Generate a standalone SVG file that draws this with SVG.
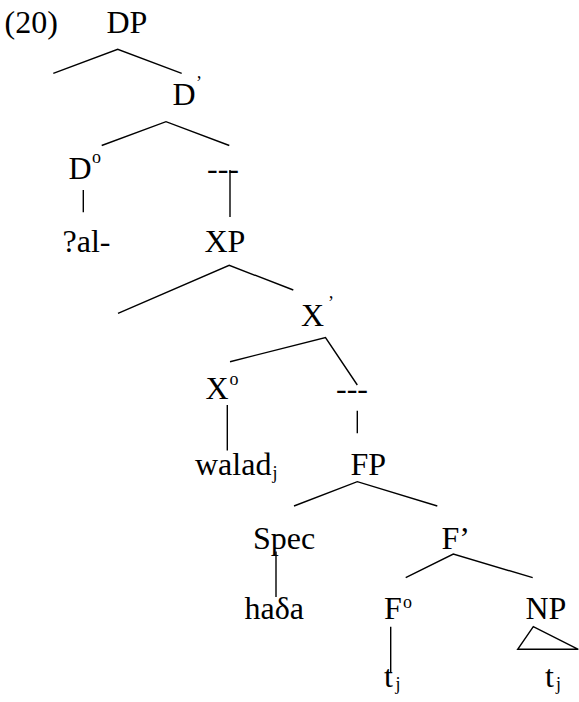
<svg xmlns="http://www.w3.org/2000/svg" width="579" height="702" viewBox="0 0 579 702">
<style>
text{font-family:"Liberation Serif","Times New Roman",serif;font-size:32px;fill:#000}
.c{fill:none;stroke:#000;stroke-width:1.4;stroke-linejoin:miter}
</style>
<rect width="579" height="702" fill="#fff"/>
<g id="connectors">
<path class="c" d="M53.3,73.3 L117.7,49.3 L181.7,73.3"/>
<path class="c" d="M101.7,145.5 L166,121.7 L229.3,145.5"/>
<path class="c" d="M230,170 V217"/>
<path class="c" d="M83.3,190 V212.3"/>
<path class="c" d="M118,313.3 L229.2,265.3 L293.3,290"/>
<path class="c" d="M230,361.7 L325.5,337.5 L357.3,385"/>
<path class="c" d="M227.3,405 V450.5"/>
<path class="c" d="M357.3,410.7 V433.3"/>
<path class="c" d="M294,506 L357.3,481.7 L437.3,506"/>
<path class="c" d="M276,551.5 V597"/>
<path class="c" d="M405.7,577.7 L453.3,554 L532.7,577.7"/>
<path class="c" d="M390.7,626.7 V672.7"/>
<path class="c" d="M533.3,626.7 L517.7,649.3 L578.3,649.3 Z"/>
</g>
<g id="label-20"><text x="4.5" y="33">(20)</text></g>
<g id="node-DP"><text x="106.5" y="33">DP</text></g>
<g id="node-Dbar"><text x="172.5" y="105">D</text><text x="196" y="88.5" style="font-size:18px">’</text></g>
<g id="node-D0"><text x="68.5" y="179">D</text><text x="92" y="163" style="font-size:18px">o</text></g>
<g id="node-empty1"><text x="207" y="179">---</text></g>
<g id="node-al"><text x="62.5" y="252">?al-</text></g>
<g id="node-XP"><text x="204.5" y="252">XP</text></g>
<g id="node-Xbar"><text x="301" y="326">X</text><text x="328" y="309" style="font-size:18px">’</text></g>
<g id="node-X0"><text x="205.5" y="399">X</text><text x="229.5" y="385" style="font-size:18px">o</text></g>
<g id="node-empty2"><text x="336" y="399">---</text></g>
<g id="node-walad"><text x="195" y="475">walad</text><text x="272.5" y="479" style="font-size:18px">j</text></g>
<g id="node-FP"><text x="350.5" y="475">FP</text></g>
<g id="node-Spec"><text x="253" y="549">Spec</text></g>
<g id="node-Fbar"><text x="441.5" y="549">F’</text></g>
<g id="node-hada"><text x="244.5" y="619">haδa</text></g>
<g id="node-F0"><text x="384" y="619">F</text><text x="403" y="608" style="font-size:18px">o</text></g>
<g id="node-NP"><text x="525.5" y="619">NP</text></g>
<g id="node-t1"><text x="384" y="687">t</text><text x="395.5" y="690" style="font-size:18px">j</text></g>
<g id="node-t2"><text x="545" y="687">t</text><text x="556" y="690" style="font-size:18px">j</text></g>
</svg>
